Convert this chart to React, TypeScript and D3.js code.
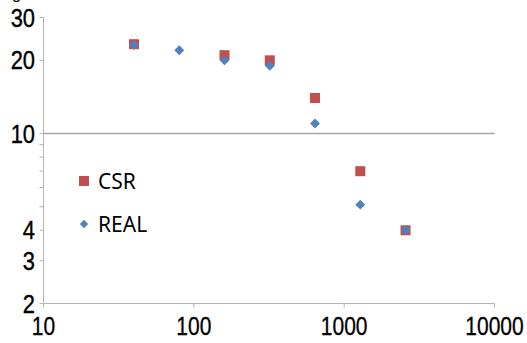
import React from 'react';
import * as d3 from 'd3';

const csrX = [40, 160, 320, 640, 1280, 2560];
const csrY = [23.3, 21, 20, 14, 7, 4];
const realX = [40, 80, 160, 320, 640, 1280, 2560];
const realY = [23.1, 22, 20, 19, 11, 5.1, 4];

const xTicks = [10, 100, 1000, 10000];
const yTicks = [2, 3, 4, 5, 6, 7, 8, 9, 10, 20, 30];
const yLabels = [2, 3, 4, 10, 20, 30];
const gridValues = [10];

const seriesNames = ['CSR', 'REAL'];
const colors = ['#C0504D', '#4F81BD'];

const App = () => {
  const width = 527;
  const height = 343;

  const x = d3.scaleLog().domain([10, 10000]).range([43.5, 494.5]);
  const y = d3.scaleLog().domain([2, 30]).range([303.5, 17.5]);

  // square turned 45 degrees, like the spreadsheet marker
  const diamond = d3.symbol().type(d3.symbolDiamond2).size(62)();
  const axisColor = '#B3B3B3';
  const tickFont = 'Liberation Sans, Arial, sans-serif';

  return (
    <svg width={width} height={height} style={{ position: 'absolute', left: 0, top: 0 }}>
      <rect width={width} height={height} fill="#fff" />

      {/* clipped axis title at the very top */}
      <text x={12} y={-1} fontFamily={tickFont} fontSize={16} fill="#000">g</text>

      {/* gridline */}
      {gridValues.map(v => (
        <line key={v} x1={x(10)} x2={x(10000)} y1={y(v)} y2={y(v)} stroke="#A6A6A6" strokeWidth={1.6} />
      ))}

      {/* y axis */}
      <line x1={x(10)} x2={x(10)} y1={y(30)} y2={y(2)} stroke={axisColor} />
      {yTicks.map(t => (
        <line key={t} x1={x(10) - 4} x2={x(10)} y1={y(t)} y2={y(t)} stroke={axisColor} />
      ))}
      {yLabels.map(t => (
        <text
          key={t}
          transform={`translate(35,${y(t) + 9}) scale(0.84,1)`}
          textAnchor="end"
          fontFamily={tickFont}
          fontSize={26}
          fill="#000"
          stroke="#000"
          strokeWidth={0.4}
        >
          {t}
        </text>
      ))}

      {/* x axis */}
      <line x1={x(10)} x2={x(10000)} y1={y(2)} y2={y(2)} stroke={axisColor} />
      {xTicks.map(t => (
        <line key={t} x1={x(t)} x2={x(t)} y1={y(2)} y2={y(2) + 4} stroke={axisColor} />
      ))}
      {xTicks.map(t => (
        <text
          key={t}
          transform={`translate(${x(t)},335) scale(0.84,1)`}
          textAnchor="middle"
          fontFamily={tickFont}
          fontSize={25}
          fill="#000"
          stroke="#000"
          strokeWidth={0.3}
        >
          {t}
        </text>
      ))}

      {/* CSR */}
      {csrX.map((v, i) => (
        <rect key={i} x={x(v) - 5} y={y(csrY[i]) - 5} width={10} height={10} fill={colors[0]} />
      ))}
      {/* REAL */}
      {realX.map((v, i) => (
        <path key={i} d={diamond} transform={`translate(${x(v)},${y(realY[i])})`} fill={colors[1]} />
      ))}

      {/* legend */}
      <rect x={79} y={176} width={10} height={10} fill={colors[0]} />
      <path d={d3.symbol().type(d3.symbolDiamond2).size(45)()} transform="translate(84,224)" fill={colors[1]} />
      {seriesNames.map((n, i) => (
        <text key={n} x={98} y={189 + i * 43} fontFamily="Noto Sans, sans-serif" fontSize={21} fill="#000">
          {n}
        </text>
      ))}
    </svg>
  );
};

export default App;
